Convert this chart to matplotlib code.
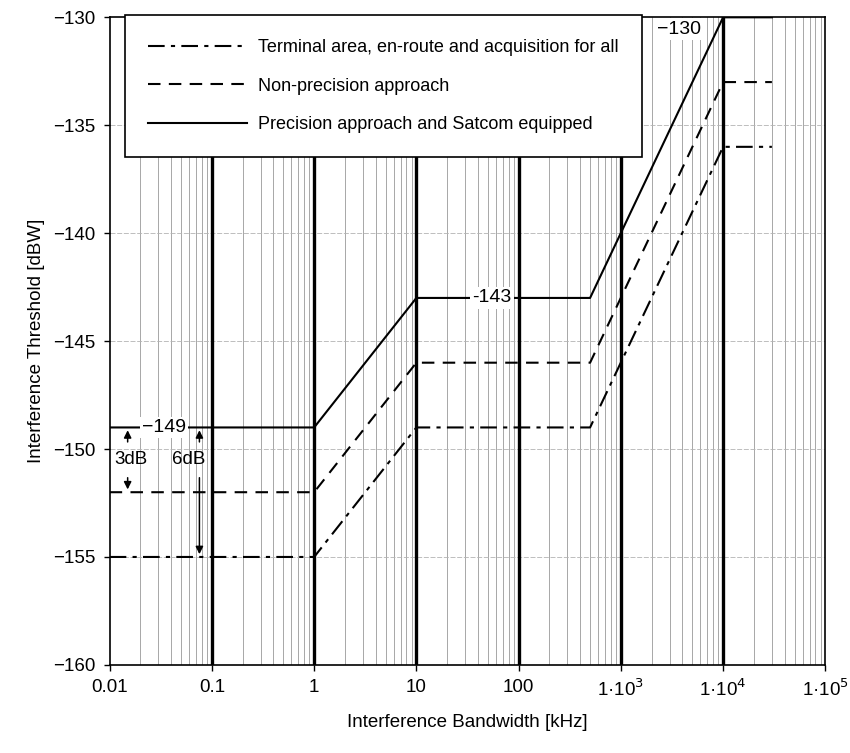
import matplotlib
matplotlib.use("Agg")
import matplotlib.pyplot as plt
import numpy as np

plt.rcParams['font.family'] = ['Liberation Sans', 'DejaVu Sans']

# breakpoints of the three threshold masks
bw_khz = [0.01, 1, 10, 500, 1e4, 3e4]
terminal = [-155, -155, -149, -149, -136, -136]
non_precision = [-152, -152, -146, -146, -133, -133]
precision = [-149, -149, -143, -143, -130, -130]

labels = ["Terminal area, en-route and acquisition for all",
          "Non-precision approach",
          "Precision approach and Satcom equipped"]

xticks = [0.01, 0.1, 1, 10, 100, 1e3, 1e4, 1e5]
xtick_labels = ["0.01", "0.1", "1", "10", "100",
                "1·10$^{3}$", "1·10$^{4}$", "1·10$^{5}$"]
yticks = [-160, -155, -150, -145, -140, -135, -130]

fig = plt.figure(figsize=(8.5, 7.53), dpi=100)
ax = fig.add_axes([0.129, 0.117, 0.842, 0.86])
ax.set_xscale("log")
ax.set_xlim(0.01, 1e5)
ax.set_ylim(-160, -130)

# grid: minor decades thin grey, decades thick black
for dec in range(-2, 5):
    for m in range(2, 10):
        ax.axvline(m * 10.0 ** dec, color="0.6", lw=0.6, zorder=0)
for d in xticks[1:-1]:
    ax.axvline(d, color="black", lw=2.4, zorder=1)
for yv in yticks[1:-1]:
    ax.axhline(yv, color="0.7", lw=0.6, ls=(0, (6, 2)), zorder=0)

ax.plot(bw_khz, terminal, color="black", lw=1.5, ls=(0, (8, 3, 2, 3)), label=labels[0], zorder=3)
ax.plot(bw_khz, non_precision, color="black", lw=1.5, ls=(0, (6, 4)), label=labels[1], zorder=3)
ax.plot(bw_khz, precision, color="black", lw=1.5, ls="-", label=labels[2], zorder=3)

box = dict(facecolor="white", edgecolor="none", pad=1.5)
ax.text(0.034, -149, "\u2212149", fontsize=14, ha="center", va="center", bbox=box, zorder=4)
ax.text(55, -143, "-143", fontsize=14, ha="center", va="center", bbox=box, zorder=4)
ax.text(3700, -130.15, "\u2212130", fontsize=14, ha="center", va="top", bbox=box, zorder=4)

# 3 dB / 6 dB arrows
arr = dict(arrowstyle="-|>", color="black", lw=1.1, mutation_scale=11)
ax.text(0.016, -150.5, "3dB", fontsize=13.5, ha="center", va="center", zorder=4)
ax.annotate("", xy=(0.015, -149), xytext=(0.015, -149.8), arrowprops=arr, zorder=4)
ax.annotate("", xy=(0.015, -152), xytext=(0.015, -151.2), arrowprops=arr, zorder=4)
ax.text(0.059, -150.5, "6dB", fontsize=13.5, ha="center", va="center", zorder=4)
ax.annotate("", xy=(0.0755, -149), xytext=(0.0755, -149.8), arrowprops=arr, zorder=4)
ax.annotate("", xy=(0.0755, -155), xytext=(0.0755, -151.2), arrowprops=arr, zorder=4)

ax.set_xticks(xticks)
ax.set_xticklabels(xtick_labels)
ax.xaxis.set_minor_locator(matplotlib.ticker.NullLocator())
ax.set_yticks(yticks)
ax.set_yticklabels(["\u2212%d" % abs(v) for v in yticks])
ax.tick_params(labelsize=13.5, length=4, width=1, pad=6)

for s in ax.spines.values():
    s.set_linewidth(1.2)

ax.set_xlabel("Interference Bandwidth [kHz]", fontsize=13.5, labelpad=10)
ax.set_ylabel("Interference Threshold [dBW]", fontsize=13.5, labelpad=6)

leg = ax.legend(loc="upper left", bbox_to_anchor=(0.021, 1.003), fontsize=13,
                handlelength=5.5, handletextpad=0.6, labelspacing=1.2, borderpad=1.3,
                borderaxespad=0, fancybox=False, framealpha=1, edgecolor="black")
leg.get_frame().set_linewidth(1.2)
leg.set_zorder(5)

fig.savefig("out.png", dpi=100)
